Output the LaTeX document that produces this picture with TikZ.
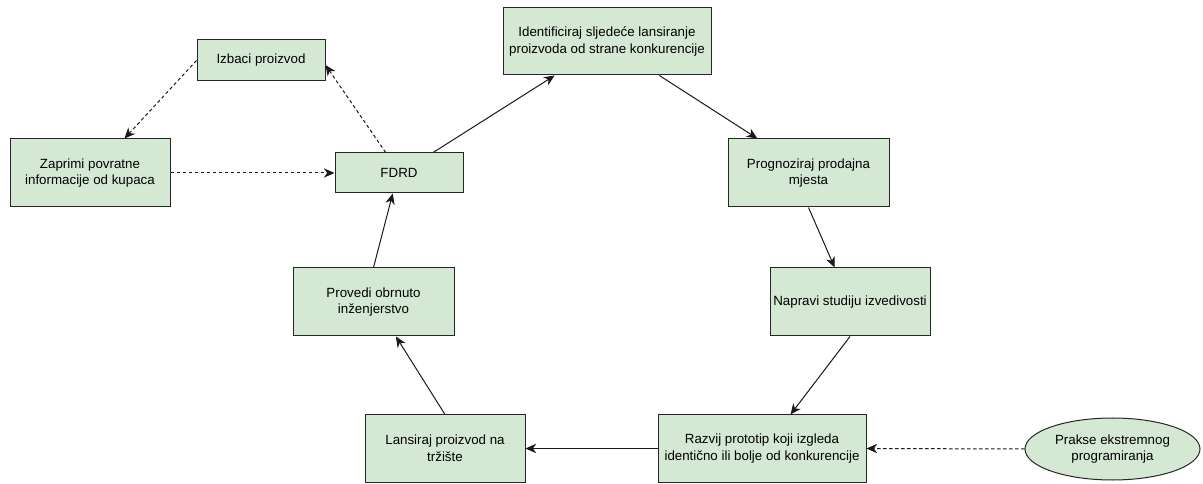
\documentclass[tikz,border=0pt]{standalone}
\usepackage{fontspec}
\setmainfont{Liberation Sans}
\usetikzlibrary{arrows.meta,shapes.geometric}
\definecolor{boxgreen}{RGB}{213,232,212}
\tikzset{
	box/.style={draw=black!85, fill=boxgreen, line width=0.75pt, align=center, inner sep=0pt, font=\fontsize{10pt}{12.5pt}\selectfont},
	flow/.style={-{Stealth[length=8pt, width=7pt, inset=2.5pt]}, line width=0.75pt, black!90},
	hint/.style={flow, dash pattern=on 2.5pt off 2pt},
}
\begin{document}
\begin{tikzpicture}[x=0.75pt, y=-0.75pt]
	\useasboundingbox (0, 0) rectangle (1203, 484);
	% okviri
	\node[box, minimum width=96pt, minimum height=30.75pt] (izbaci) at (261, 60.5) {Izbaci proizvod};
	\node[box, minimum width=120pt, minimum height=51pt] (zaprimi) at (90, 173) {Zaprimi povratne\\informacije od kupaca};
	\node[box, minimum width=96pt, minimum height=30pt] (fdrd) at (399, 173) {FDRD};
	\node[box, minimum width=156pt, minimum height=50.25pt] (ident) at (607, 41.5) {Identificiraj sljedeće lansiranje\\proizvoda od strane konkurencije};
	\node[box, minimum width=120.75pt, minimum height=51pt] (progn) at (808.5, 173) {Prognoziraj prodajna\\mjesta};
	\node[box, minimum width=120pt, minimum height=51pt] (studija) at (850, 302) {Napravi studiju izvedivosti};
	\node[box, minimum width=156pt, minimum height=50.25pt] (razvij) at (762, 448.5) {Razvij prototip koji izgleda\\identično ili bolje od konkurencije};
	\node[box, minimum width=120pt, minimum height=50.25pt] (lansiraj) at (445, 448.5) {Lansiraj proizvod na\\tržište};
	\node[box, minimum width=120.75pt, minimum height=51pt] (provedi) at (373.5, 302) {Provedi obrnuto\\inženjerstvo};
	\node[box, ellipse, minimum width=131.25pt, minimum height=46.5pt] (prakse) at (1112.5, 449) {Prakse ekstremnog\\programiranja};
	% veze
	\draw[flow] (fdrd.31) -- (ident.213);
	\draw[flow] (ident.327) -- (progn.146.6);
	\draw[flow] (progn.south) -- (studija.114);
	\draw[flow] (studija.south) -- (razvij.50);
	\draw[flow] (razvij.west) -- (lansiraj.east);
	\draw[flow] (lansiraj.north) -- (provedi.303.5);
	\draw[flow] (provedi.north) -- (fdrd.253);
	\draw[hint] (fdrd.123) -- (izbaci.-4);
	\draw[hint] (izbaci.west) -- (zaprimi.45);
	\draw[hint] (zaprimi.east) -- (fdrd.west);
	\draw[hint] (prakse.west) -- (razvij.east);
\end{tikzpicture}
\end{document}
